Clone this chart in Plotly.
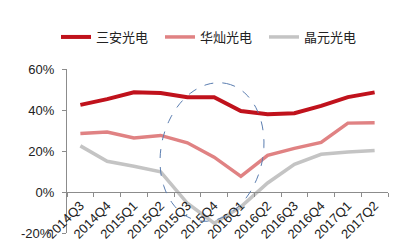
import numpy as np
import plotly.graph_objects as go

quarters = ["2014Q3", "2014Q4", "2015Q1", "2015Q2", "2015Q3", "2015Q4",
            "2016Q1", "2016Q2", "2016Q3", "2016Q4", "2017Q1", "2017Q2"]
sanan = [42.5, 45.3, 48.6, 48.3, 46.2, 46.2, 39.5, 37.9, 38.4, 42.0, 46.3, 48.6]
huacan = [28.5, 29.3, 26.3, 27.6, 24.0, 17.0, 7.6, 17.9, 21.3, 24.2, 33.6, 33.8]
jingyuan = [22.5, 15.0, 12.6, 9.8, -5.5, -15.2, -7.2, 4.4, 13.5, 18.4, 19.5, 20.2]
tick_vals = [-20, 0, 20, 40, 60]
tick_text = ["-20%", "0%", "20%", "40%", "60%"]

fig = go.Figure()
series = [("三安光电", sanan, "#c0121c", 4),
          ("华灿光电", huacan, "#e08283", 3.5),
          ("晶元光电", jingyuan, "#c4c4c4", 3.5)]
for name, vals, col, w in series:
    fig.add_trace(go.Scatter(x=quarters, y=vals, name=name, mode="lines",
                             line=dict(color=col, width=w)))

# dashed ellipse highlight (built in pixel space, converted to data units)
L, R, T, B = 67, 388, 69, 233
ncat = len(quarters)
pxu = (R - L) / ncat
pyu = (B - T) / 80.0
cx, cy, a, b, t = 212, 152, 70, 51, np.radians(12)
th = np.linspace(0, 2 * np.pi, 80)
ux, uy = np.sin(t), -np.cos(t)
vx, vy = np.cos(t), np.sin(t)
px = cx + a * np.cos(th) * ux + b * np.sin(th) * vx
py = cy + a * np.cos(th) * uy + b * np.sin(th) * vy
xd = (px - L) / pxu - 0.5
yd = 60 - (py - T) / pyu
path = "M " + " L ".join(f"{x:.3f},{y:.3f}" for x, y in zip(xd, yd)) + " Z"
fig.add_shape(type="path", path=path, xref="x", yref="y",
              line=dict(color="#5a7db0", width=1, dash="dash"))

# bottom y tick label (plotly hides it where the free x axis crosses)
fig.add_annotation(text=tick_text[0], x=0, xref="paper", y=tick_vals[0], yref="y",
                   xanchor="right", yanchor="middle", xshift=-13, showarrow=False,
                   font=dict(family="Liberation Sans, Arial", size=13, color="#222"))

fig.update_layout(
    width=404, height=240,
    margin=dict(l=L, r=404 - R, t=T, b=240 - B, autoexpand=False),
    paper_bgcolor="white", plot_bgcolor="white",
    font=dict(family="Liberation Sans, Arial", size=13, color="#222"),
    showlegend=True,
    legend=dict(orientation="h", x=(56 - L) / (R - L), xanchor="left",
                y=(B - 37) / (B - T), yanchor="middle",
                font=dict(family="Noto Sans CJK SC", size=13, color="#222"),
                itemwidth=30, entrywidth=59, entrywidthmode="pixels",
                tracegroupgap=0, bgcolor="rgba(0,0,0,0)"),
    xaxis=dict(type="category", anchor="free", position=0.25,
               showline=True, linecolor="#8c8c8c", linewidth=1,
               ticks="outside", ticklen=4, tickcolor="#8c8c8c", tickson="boundaries",
               tickangle=-45, tickfont=dict(size=13, color="#222"),
               showgrid=False, zeroline=False, range=[-0.5, ncat - 0.5]),
    yaxis=dict(range=[-20, 60], tickvals=tick_vals, ticktext=tick_text,
               showline=True, linecolor="#8c8c8c", linewidth=1,
               ticks="outside", ticklen=4, tickcolor="#8c8c8c", ticklabelstandoff=5,
               showgrid=False, zeroline=False, tickfont=dict(size=13, color="#222")),
)
fig.write_html("out.html")
